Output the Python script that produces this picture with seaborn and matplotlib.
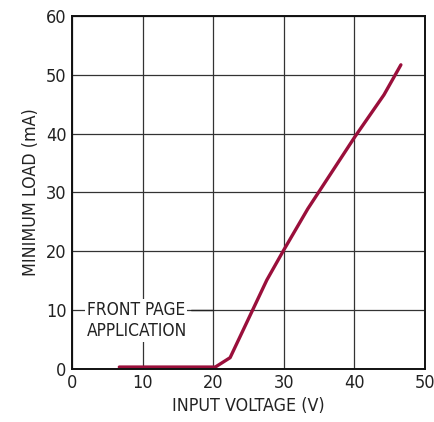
import matplotlib
matplotlib.use("Agg")
import matplotlib.pyplot as plt
import pandas as pd
import seaborn as sns

# curve
input_v = [6.7, 20.3, 22.4, 27.6, 30.0, 33.4, 40.1, 44.2, 46.6]
min_load = [0.3, 0.3, 1.9, 15.1, 20.2, 27.2, 39.5, 46.6, 51.7]
x_ticks = [0, 10, 20, 30, 40, 50]
y_ticks = [0, 10, 20, 30, 40, 50, 60]

sns.set_style("white")
plt.rcParams["font.family"] = ["DejaVu Sans", "Liberation Sans"]
plt.rcParams["font.stretch"] = "condensed"

df = pd.DataFrame({"v": input_v, "load": min_load})

fig = plt.figure(figsize=(4.34, 4.22), dpi=100)
ax = fig.add_axes([0.166, 0.126, 0.813, 0.836])
sns.lineplot(data=df, x="v", y="load", ax=ax, color="#9a0f3b", linewidth=2.4)

ax.set_xlim(0, 50)
ax.set_ylim(0, 60)
ax.set_xticks(x_ticks)
ax.set_yticks(y_ticks)
ax.grid(True, color="#333333", linewidth=0.9)
ax.tick_params(length=0, labelsize=13, colors="#222222", pad=4)
for s in ax.spines.values():
    s.set_color("#111111")
    s.set_linewidth(1.4)
ax.set_xlabel("INPUT VOLTAGE (V)", fontsize=12.8, color="#222222", labelpad=3)
ax.set_ylabel("MINIMUM LOAD (mA)", fontsize=12.8, color="#222222", labelpad=4)

ax.text(2.1, 10, "FRONT PAGE", fontsize=12.4, va="center", ha="left", color="#222222",
        bbox=dict(facecolor="white", edgecolor="none", pad=1.5))
ax.text(2.1, 6.5, "APPLICATION", fontsize=12.4, va="center", ha="left", color="#222222",
        bbox=dict(facecolor="white", edgecolor="none", pad=1.5))
ax.plot([16.8, 20], [10, 10], color="#222222", linewidth=1.0)

fig.savefig("out.png", dpi=100)
